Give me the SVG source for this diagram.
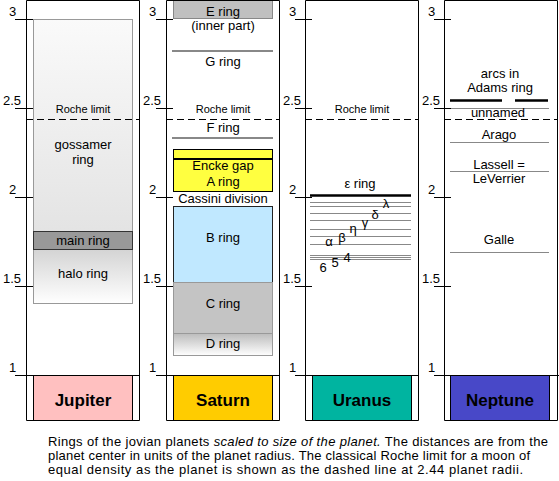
<svg xmlns="http://www.w3.org/2000/svg" width="559" height="481" viewBox="0 0 559 481">
<style>
text{font-family:"Liberation Sans",Arial,sans-serif;fill:#000}
.t{font-size:13px;text-anchor:middle}
.s{font-size:11px;text-anchor:middle}
.ax{font-size:13px}
.pn{font-size:17px;font-weight:bold;text-anchor:middle}
.frame{fill:none;stroke:#000;stroke-width:1}
.tick{stroke:#000;stroke-width:1}
.roche{stroke:#000;stroke-width:1;stroke-dasharray:7,4}
.gl{stroke:#888;stroke-width:1}
.gl2{stroke:#888;stroke-width:2}
.cap{font-size:13px}
.g{font-size:13px;text-anchor:middle}
</style>
<defs>
<linearGradient id="gos" x1="0" y1="0" x2="0" y2="1"><stop offset="0" stop-color="#fafafa"/><stop offset="1" stop-color="#dcdcdc"/></linearGradient>
<linearGradient id="halo" x1="0" y1="0" x2="0" y2="1"><stop offset="0" stop-color="#d4d4d4"/><stop offset="1" stop-color="#ffffff"/></linearGradient>
<linearGradient id="dring" x1="0" y1="0" x2="0" y2="1"><stop offset="0" stop-color="#bcbcbc"/><stop offset="1" stop-color="#ffffff"/></linearGradient>
</defs>

<g id="jupiter">
<rect x="33.5" y="19.5" width="99" height="284" fill="url(#gos)" stroke="#999"/>
<rect x="33.5" y="249.5" width="99" height="54" fill="url(#halo)" stroke="#999"/>
<rect x="33.5" y="231.5" width="99" height="18" fill="#999" stroke="#333"/>
<text class="t" x="83" y="149">gossamer</text>
<text class="t" x="83" y="164">ring</text>
<text class="t" x="83" y="245">main ring</text>
<text class="t" x="83" y="278">halo ring</text>
<text class="s" x="83" y="113">Roche limit</text>
<line class="roche" x1="26" y1="119.5" x2="140" y2="119.5"/>
<rect x="33.5" y="375.5" width="99" height="45" fill="#ffc0c0" stroke="#000"/>
<text class="pn" x="83" y="406">Jupiter</text>
<path class="frame" d="M26.5 0.5V420.5H139.5V0.5ZM15 375.5H140"/>
<path class="tick" d="M15 19.5H33M15 108.5H33M15 197.5H33M15 286.5H33"/>
<text class="ax" x="9" y="16">3</text>
<text class="ax" x="3" y="105">2.5</text>
<text class="ax" x="9" y="194">2</text>
<text class="ax" x="3" y="283">1.5</text>
<text class="ax" x="9" y="372">1</text>
</g>

<g id="saturn">
<rect x="173.5" y="0.5" width="99" height="18" fill="#c0c0c0" stroke="#888"/>
<text class="t" x="223" y="16">E ring</text>
<text class="t" x="223" y="30">(inner part)</text>
<line class="gl2" x1="172" y1="51" x2="273" y2="51"/>
<text class="t" x="223" y="66">G ring</text>
<text class="s" x="223" y="113">Roche limit</text>
<line class="roche" x1="166" y1="119.5" x2="280" y2="119.5"/>
<text class="t" x="223" y="132">F ring</text>
<line class="gl2" x1="172" y1="138" x2="273" y2="138"/>
<rect x="173.5" y="149.5" width="99" height="42" fill="#ffff40" stroke="#000"/>
<line x1="173" y1="159" x2="273" y2="159" stroke="#000" stroke-width="2"/>
<text class="t" x="223" y="170">Encke gap</text>
<text class="t" x="223" y="186">A ring</text>
<text class="t" x="223" y="203">Cassini division</text>
<rect x="173.5" y="206.5" width="99" height="76" fill="#c0e8ff" stroke="#222"/>
<text class="t" x="223" y="242">B ring</text>
<rect x="173.5" y="282.5" width="99" height="51" fill="#c4c4c4" stroke="#999"/>
<text class="t" x="223" y="308">C ring</text>
<rect x="173.5" y="333.5" width="99" height="22" fill="url(#dring)" stroke="#999"/>
<text class="t" x="223" y="348">D ring</text>
<rect x="173.5" y="375.5" width="99" height="45" fill="#ffcc00" stroke="#000"/>
<text class="pn" x="223" y="406">Saturn</text>
<path class="frame" d="M166.5 0.5V420.5H279.5V0.5ZM156 375.5H280"/>
<path class="tick" d="M156 19.5H173M156 108.5H173M156 197.5H173M156 286.5H173"/>
<text class="ax" x="149" y="16">3</text>
<text class="ax" x="143" y="105">2.5</text>
<text class="ax" x="149" y="194">2</text>
<text class="ax" x="143" y="283">1.5</text>
<text class="ax" x="149" y="372">1</text>
</g>

<g id="uranus">
<text class="s" x="362" y="113">Roche limit</text>
<line class="roche" x1="305" y1="119.5" x2="419" y2="119.5"/>
<text class="t" x="360" y="188">ε ring</text>
<line x1="310" y1="195.5" x2="411" y2="195.5" stroke="#000" stroke-width="2.5"/>
<path class="gl" d="M310 202.5H411M310 206.5H411M310 213.5H411M310 220.5H411M310 229.5H411M310 236.5H411M310 244.5H411M310 255.5H411M310 257.5H411M310 259.5H411"/>
<text class="g" x="386" y="208">λ</text>
<text class="g" x="375" y="219">δ</text>
<text class="g" x="365" y="227">γ</text>
<text class="g" x="353" y="233">η</text>
<text class="g" x="342" y="242">β</text>
<text class="g" x="329" y="246">α</text>
<text class="g" x="347" y="262">4</text>
<text class="g" x="335" y="267">5</text>
<text class="g" x="323" y="272">6</text>
<rect x="312.5" y="375.5" width="99" height="45" fill="#00b4a0" stroke="#000"/>
<text class="pn" x="362" y="406">Uranus</text>
<path class="frame" d="M305.5 0.5V420.5H418.5V0.5ZM295 375.5H419"/>
<path class="tick" d="M295 19.5H312M295 108.5H312M295 197.5H312M295 286.5H312"/>
<text class="ax" x="289" y="16">3</text>
<text class="ax" x="283" y="105">2.5</text>
<text class="ax" x="289" y="194">2</text>
<text class="ax" x="283" y="283">1.5</text>
<text class="ax" x="289" y="372">1</text>
</g>

<g id="neptune">
<text class="t" x="500" y="78">arcs in</text>
<text class="t" x="500" y="92">Adams ring</text>
<path d="M450 100.5H502M515 100.5H548" stroke="#000" stroke-width="2.5"/>
<line class="gl" x1="450" y1="108.5" x2="549" y2="108.5"/>
<text class="t" x="498" y="117">unnamed</text>
<line class="roche" x1="444" y1="119.5" x2="558" y2="119.5"/>
<text class="t" x="499" y="139">Arago</text>
<line class="gl" x1="450" y1="142.5" x2="549" y2="142.5"/>
<text class="t" x="499" y="169">Lassell =</text>
<line class="gl" x1="450" y1="171.5" x2="549" y2="171.5"/>
<text class="t" x="499" y="183">LeVerrier</text>
<text class="t" x="499" y="244">Galle</text>
<line class="gl" x1="450" y1="252.5" x2="549" y2="252.5"/>
<rect x="450.5" y="375.5" width="99" height="45" fill="#4848c8" stroke="#000"/>
<text class="pn" x="500" y="406">Neptune</text>
<path class="frame" d="M444.5 0.5V420.5H557.5V0.5ZM434 375.5H559"/>
<path class="tick" d="M434 19.5H451M434 108.5H451M434 197.5H451M434 286.5H451"/>
<text class="ax" x="428" y="16">3</text>
<text class="ax" x="422" y="105">2.5</text>
<text class="ax" x="428" y="194">2</text>
<text class="ax" x="422" y="283">1.5</text>
<text class="ax" x="428" y="372">1</text>
</g>

<g id="connectors"></g>

<g id="caption" class="cap">
<text x="48" y="446" textLength="500" lengthAdjust="spacing">Rings of the jovian planets  <tspan font-style="italic">scaled to size of the planet.</tspan>  The distances are from the</text>
<text x="48" y="460" textLength="482" lengthAdjust="spacing">planet center in units of the planet radius. The classical Roche limit for a moon of</text>
<text x="48" y="474" textLength="475" lengthAdjust="spacing">equal density as the planet is shown as the dashed line at 2.44 planet radii.</text>
</g>
</svg>
